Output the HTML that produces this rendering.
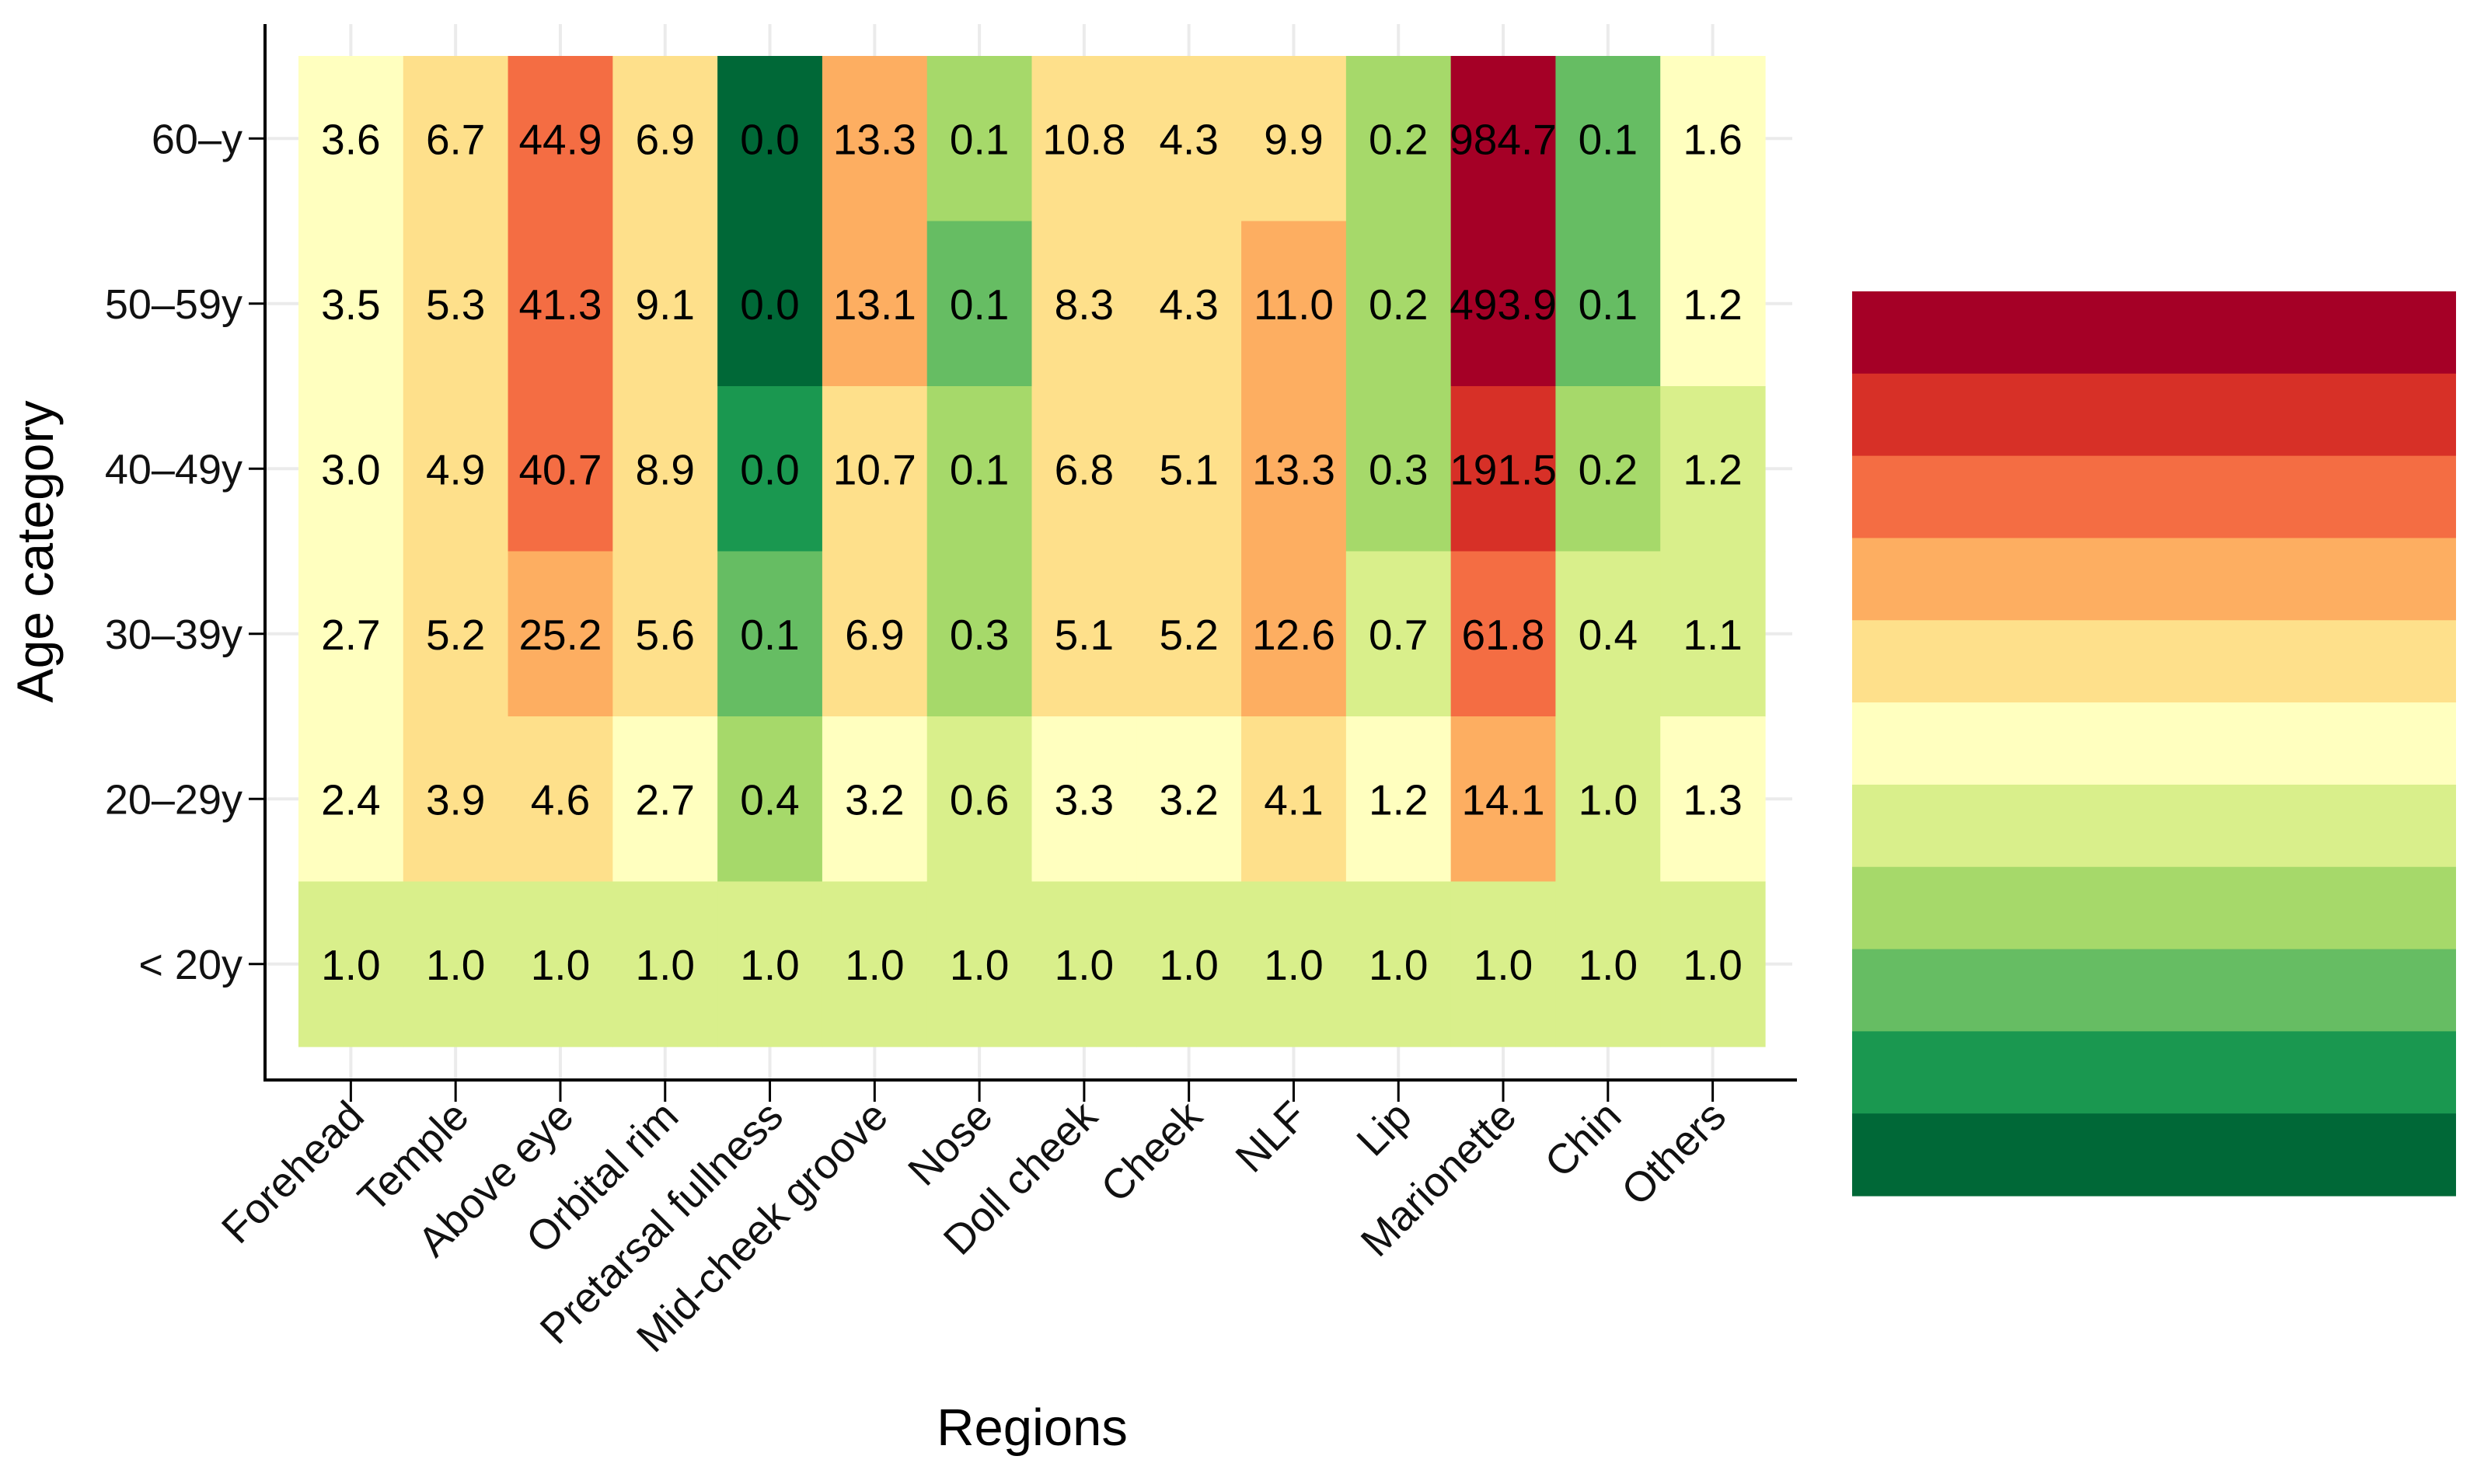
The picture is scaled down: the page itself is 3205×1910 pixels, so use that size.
<!DOCTYPE html>
<html><head><meta charset="utf-8"><style>
html,body{margin:0;padding:0;background:#fff;}
svg{display:block;font-family:"Liberation Sans",Arial,sans-serif;}
</style></head><body>
<svg id="chart" width="3205" height="1910" viewBox="0 0 3205 1910" xmlns="http://www.w3.org/2000/svg">
<g id="grid"></g>
<g id="cells"></g>
<g id="labels"></g>
<g id="axes"></g>
<g id="legend"></g>
<text x="1328" y="1860" font-size="67" text-anchor="middle">Regions</text>
<text transform="translate(68,710) rotate(-90)" font-size="66" text-anchor="middle">Age category</text>
</svg>
<script>
const regions = ["Forehead","Temple","Above eye","Orbital rim","Pretarsal fullness","Mid-cheek groove","Nose","Doll cheek","Cheek","NLF","Lip","Marionette","Chin","Others"];
const ages = ["60\u2013y","50\u201359y","40\u201349y","30\u201339y","20\u201329y","< 20y"];
const values = [
 [3.6,6.7,44.9,6.9,0.0,13.3,0.1,10.8,4.3,9.9,0.2,984.7,0.1,1.6],
 [3.5,5.3,41.3,9.1,0.0,13.1,0.1,8.3,4.3,11.0,0.2,493.9,0.1,1.2],
 [3.0,4.9,40.7,8.9,0.0,10.7,0.1,6.8,5.1,13.3,0.3,191.5,0.2,1.2],
 [2.7,5.2,25.2,5.6,0.1,6.9,0.3,5.1,5.2,12.6,0.7,61.8,0.4,1.1],
 [2.4,3.9,4.6,2.7,0.4,3.2,0.6,3.3,3.2,4.1,1.2,14.1,1.0,1.3],
 [1.0,1.0,1.0,1.0,1.0,1.0,1.0,1.0,1.0,1.0,1.0,1.0,1.0,1.0]
];
const colorBins = [
 [5,4,2,4,10,3,7,4,4,4,7,0,8,5],
 [5,4,2,4,10,3,8,4,4,3,7,0,8,5],
 [5,4,2,4,9,4,7,4,4,3,7,1,7,6],
 [5,4,3,4,8,4,7,4,4,3,6,2,6,6],
 [5,4,4,5,7,5,6,5,5,4,5,3,6,5],
 [6,6,6,6,6,6,6,6,6,6,6,6,6,6]
];
const palette = ["#a50026","#d73027","#f46d43","#fdae61","#fee08b","#ffffbf","#d9ef8b","#a6d96a","#66bd63","#1a9850","#006837"];

const NS="http://www.w3.org/2000/svg";
const L=384, R=2271, T=72, B=1347;
const cw=(R-L)/regions.length, rh=(B-T)/ages.length;
const xC=i=>L+cw*(i+0.5);
const yC=j=>T+rh*(j+0.5);
function mk(tag,attrs,parent){const e=document.createElementNS(NS,tag);for(const k in attrs)e.setAttribute(k,attrs[k]);parent.appendChild(e);return e;}
const grid=document.getElementById('grid'),cells=document.getElementById('cells'),labels=document.getElementById('labels'),axes=document.getElementById('axes'),legend=document.getElementById('legend');

regions.forEach((r,i)=>{
  const g=mk('line',{x1:xC(i),x2:xC(i),y1:31,y2:1389,stroke:"#ebebeb","stroke-width":4},grid);
  
  
});
ages.forEach((a,j)=>{
  const g=mk('line',{x1:341,x2:2306,y1:yC(j),y2:yC(j),stroke:"#ebebeb","stroke-width":4},grid);
  
  
});

ages.forEach((a,j)=>{
  regions.forEach((r,i)=>{
    const c=mk('rect',{x:L+cw*i,y:T+rh*j,width:cw+0.6,height:rh+0.6,fill:palette[colorBins[j][i]]},cells);
    
    
    const t=mk('text',{x:xC(i),y:yC(j)+20,"font-size":55,"text-anchor":"middle",fill:"#000"},labels);
    t.textContent=values[j][i].toFixed(1);
    
    
  });
});

const ya=mk('line',{x1:341,x2:341,y1:31,y2:1392,stroke:"#000","stroke-width":4},axes);


const xa=mk('line',{x1:339,x2:2312,y1:1390,y2:1390,stroke:"#000","stroke-width":4},axes);



ages.forEach((a,j)=>{
  const tk=mk('line',{x1:320,x2:341,y1:yC(j),y2:yC(j),stroke:"#000","stroke-width":3},axes);
  
  
  const t=mk('text',{x:312,y:yC(j)+19,"font-size":54,"text-anchor":"end",fill:"#111"},axes);
  t.textContent=a;
  
  
});
regions.forEach((r,i)=>{
  const tk=mk('line',{x1:xC(i),x2:xC(i),y1:1390,y2:1418,stroke:"#000","stroke-width":3},axes);
  
  
  const x=xC(i)+20, y=1440;
  const t=mk('text',{x:x,y:y,"font-size":54,"text-anchor":"end",fill:"#111",transform:`rotate(-45 ${x} ${y})`},axes);
  t.textContent=r;
  
  
});

const LX=2383, LW=777, LT=375, LB=1539, bh=(LB-LT)/palette.length;
palette.forEach((c,k)=>{
  const e=mk('rect',{x:LX,y:LT+bh*k,width:LW,height:bh+0.6,fill:c},legend);
  
  
});
</script>
</body></html>
